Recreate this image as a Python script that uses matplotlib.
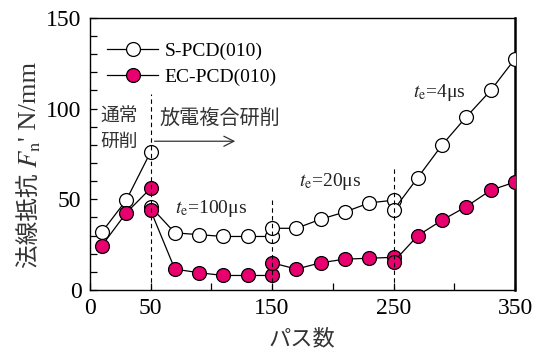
import matplotlib
matplotlib.use("Agg")
import matplotlib.pyplot as plt
from matplotlib.ticker import MultipleLocator, FixedLocator

plt.rcParams['mathtext.fontset'] = 'stix'

# Data: segments (normal grinding, te=100us, te=20us, te=4us)
seg_x = [[10, 30, 50], [50, 70, 90, 110, 130, 150], [150, 170, 190, 210, 230, 250], [250, 270, 290, 310, 330, 350]]
s_pcd = [[32, 49.5, 76], [46, 31.5, 30.5, 29.5, 29.5, 29.5], [34, 34, 39, 43, 48, 49.5], [44, 62, 80, 95.5, 110, 127.5]]
ec_pcd = [[24.5, 42.5, 56], [44, 11.5, 9.5, 8, 8, 8], [15, 11.5, 15, 17, 17.5, 18], [15.5, 30, 38.5, 46, 55, 59.5]]
x_ticks = [0, 50, 150, 250, 350]
y_ticks = [0, 50, 100, 150]

serif = ['Liberation Serif', 'DejaVu Serif']
cjk = ['Noto Sans CJK JP', 'DejaVu Sans']
pink = '#e8006f'

fig = plt.figure(figsize=(5.41, 3.58), dpi=100)
ax = fig.add_axes([0.166, 0.19, 0.786, 0.76])

for i, xs in enumerate(seg_x):
    ax.plot(xs, s_pcd[i], '-o', color='black', lw=0.9, ms=10, mfc='white', mec='black', mew=0.9,
            label='S-PCD(010)' if i == 0 else None, zorder=3)
    ax.plot(xs, ec_pcd[i], '-o', color='black', lw=0.9, ms=10, mfc=pink, mec='black', mew=0.9,
            label='EC-PCD(010)' if i == 0 else None, zorder=3)

# dashed boundaries
ax.plot([50, 50], [0, 108], ls=(0, (4, 3)), color='black', lw=0.8, zorder=4)
ax.plot([150, 150], [0, 50], ls=(0, (4, 3)), color='black', lw=0.8, zorder=4)
ax.plot([250, 250], [0, 67], ls=(0, (4, 3)), color='black', lw=0.8, zorder=4)

ax.set_xlim(0, 350)
ax.set_ylim(0, 150)
ax.xaxis.set_major_locator(FixedLocator(x_ticks))
ax.xaxis.set_minor_locator(FixedLocator([100, 200, 300]))
ax.yaxis.set_major_locator(FixedLocator(y_ticks))
ax.yaxis.set_minor_locator(MultipleLocator(10))
ax.tick_params(which='both', direction='in', top=False, right=False)
ax.tick_params(which='major', length=5, width=0.9, labelsize=17, pad=6)
ax.tick_params(which='minor', length=5, width=0.9)
for lab in ax.get_xticklabels() + ax.get_yticklabels():
    lab.set_family(serif)
for sp in ax.spines.values():
    sp.set_linewidth(1.0)
ax.spines['right'].set_linewidth(1.8)

ax.set_xlabel('パス数', family=cjk, fontsize=16, color='#333333', labelpad=6)

# y label assembled from pieces (CJK + italic F_n + serif N/mm), rotated
renderer = fig.canvas.get_renderer()
pieces = [('法線抵抗 ', cjk, 17), ('$F_{\\mathrm{n}}$', serif, 19), ("' N/mm", serif, 19)]
ypos = 0.252
for txt, fam, fs in pieces:
    t = fig.text(0.055, ypos, txt, rotation=90, family=fam, fontsize=fs, color='#333333',
                 ha='center', va='bottom', rotation_mode='default')
    bb = t.get_window_extent(renderer=renderer)
    ypos += bb.height / fig.bbox.height

leg = ax.legend(loc='upper left', bbox_to_anchor=(0.0, 0.975), frameon=False,
                prop={'family': serif, 'size': 14}, handlelength=2.6, handletextpad=0.35,
                labelspacing=0.45)

ax.text(9, 89, '通常\n研削', family=cjk, fontsize=13.5, color='#333333', va='center', ha='left',
        linespacing=1.25)
ax.text(57, 94, '放電複合研削', family=cjk, fontsize=14.5, color='#333333', va='center', ha='left')
ax.annotate('', xy=(122, 82), xytext=(51, 82),
            arrowprops=dict(arrowstyle='->', color='#333333', lw=0.9, mutation_scale=18))

tprop = dict(family=serif, fontsize=14, color='#222222', va='center', ha='left')
ax.text(70, 45, '$t_{\\mathrm{e}}$=100μs', **tprop)
ax.text(172, 60, '$t_{\\mathrm{e}}$=20μs', **tprop)
ax.text(266, 109, '$t_{\\mathrm{e}}$=4μs', **tprop)

fig.savefig('out.png', dpi=100)
